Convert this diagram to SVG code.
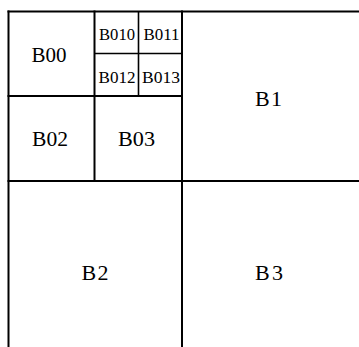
<svg xmlns="http://www.w3.org/2000/svg" width="359" height="347" viewBox="0 0 359 347">
<style>
.ln{stroke:#000;stroke-width:2;fill:none;stroke-linecap:square}
.lt{stroke:#000;stroke-width:1.6;fill:none}
text{font-family:"Liberation Serif","Times New Roman",serif;fill:#000;text-anchor:middle}
.big{font-size:21px}
.bg2{font-size:22px}
.sm{font-size:16px}
</style>
<rect width="359" height="347" fill="#fff"/>
<g id="grid">
<line class="ln" x1="8.5" y1="11.5" x2="359" y2="11.5"/>
<line class="ln" x1="8.5" y1="11.5" x2="8.5" y2="347"/>
<line class="ln" x1="182" y1="11.5" x2="182" y2="347"/>
<line class="ln" x1="8.5" y1="181" x2="359" y2="181"/>
<line class="ln" x1="8.5" y1="96" x2="182" y2="96"/>
<line class="ln" x1="94.5" y1="11.5" x2="94.5" y2="181"/>
<line class="lt" x1="94.5" y1="53.5" x2="182" y2="53.5"/>
<line class="lt" x1="138.5" y1="11.5" x2="138.5" y2="96"/>
</g>
<g id="B00"><text class="big" x="49" y="62" textLength="35" lengthAdjust="spacingAndGlyphs">B00</text></g>
<g id="B010"><text class="sm" x="117" y="39.5" textLength="36" lengthAdjust="spacingAndGlyphs">B010</text></g>
<g id="B011"><text class="sm" x="161.5" y="39.5" textLength="36" lengthAdjust="spacingAndGlyphs">B011</text></g>
<g id="B012"><text class="sm" x="117" y="83" textLength="37" lengthAdjust="spacingAndGlyphs">B012</text></g>
<g id="B013"><text class="sm" x="161" y="83" textLength="38" lengthAdjust="spacingAndGlyphs">B013</text></g>
<g id="B02"><text class="big" x="50" y="146" textLength="36" lengthAdjust="spacingAndGlyphs">B02</text></g>
<g id="B03"><text class="big" x="136.5" y="146" textLength="37" lengthAdjust="spacingAndGlyphs">B03</text></g>
<g id="B1"><text class="bg2" x="268.5" y="106" textLength="27" lengthAdjust="spacing">B1</text></g>
<g id="B2"><text class="bg2" x="95" y="280" textLength="27" lengthAdjust="spacing">B2</text></g>
<g id="B3"><text class="bg2" x="269" y="280" textLength="28" lengthAdjust="spacing">B3</text></g>
</svg>
